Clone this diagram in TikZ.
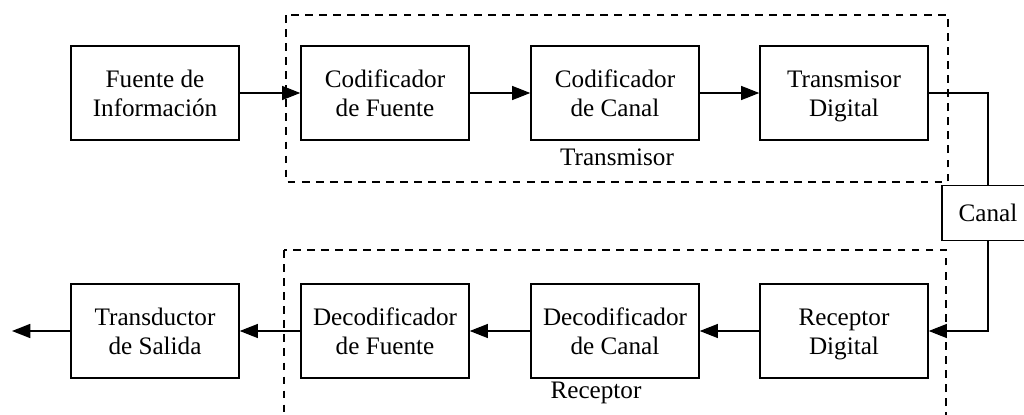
\documentclass[tikz,border=0pt]{standalone}
\usepackage{fontspec}
\setmainfont{Liberation Serif}
\usetikzlibrary{arrows.meta}

\newcommand{\dos}[2]{\rule{0pt}{19pt}#1\\#2\strut}

\begin{document}
\begin{tikzpicture}[x=0.025cm,y=-0.025cm,line width=1pt,
    >={Triangle[length=13pt,width=10pt]},
    grupo/.style={dashed,dash pattern=on 5.5pt off 4.5pt}]

        \useasboundingbox (0,0) rectangle (1024,414);

        \begin{scope}[every node/.style={rectangle,draw,align=center,
            minimum width=168*0.025cm,minimum height=94*0.025cm,
            font=\rmfamily\fontsize{17.9}{20.6}\selectfont}]
          \node (1) at (155,93)  {\dos{Fuente de}{Información}};
          \node (2) at (385,93)  {\dos{Codificador}{de Fuente}};
          \node (3) at (615,93)  {\dos{Codificador}{de Canal}};
          \node (4) at (844,93)  {\dos{Transmisor}{Digital}};
          \node (5) at (155,331) {\dos{Transductor}{de Salida}};
          \node (6) at (385,331) {\dos{Decodificador}{de Fuente}};
          \node (7) at (615,331) {\dos{Decodificador}{de Canal}};
          \node (8) at (844,331) {\dos{Receptor}{Digital}};
          \node[minimum width=92*0.025cm,minimum height=55*0.025cm] (c) at (988,213) {Canal};
        \end{scope}

        \coordinate (fin) at (12,331);

        % grupos
        \draw[grupo] (286,15) rectangle (948,182);
        \draw[grupo] (284,250) rectangle (946,440);
        \begin{scope}[every node/.style={font=\rmfamily\fontsize{17.9}{20.6}\selectfont}]
          \node (tx) at (617,157) {Transmisor};
          \node (rx) at (596,393) {Receptor};
        \end{scope}

        \draw[->] (1) -- (2);
        \draw[->] (2) -- (3);
        \draw[->] (3) -- (4);
        \draw (4.east) -| (c.north);
        \draw[->] (c.south) |- (8.east);
        \draw[->] (8) -- (7);
        \draw[->] (7) -- (6);
        \draw[->] (6) -- (5);
        \draw[->] (5.west) -- (fin);

      \end{tikzpicture}
\end{document}
